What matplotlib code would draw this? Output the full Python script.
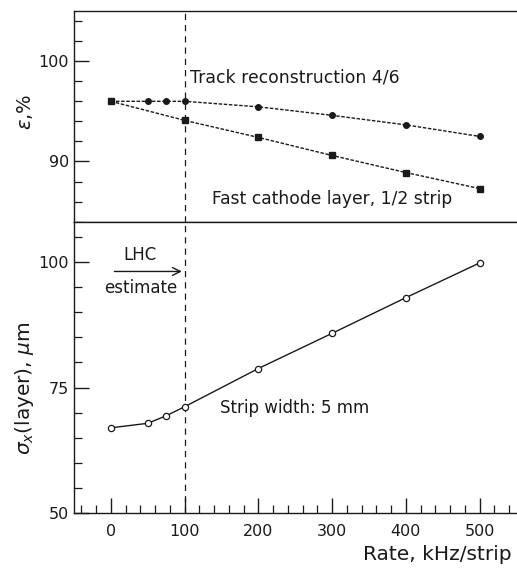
import matplotlib.pyplot as plt
from matplotlib.ticker import MultipleLocator

# Rate, kHz/strip
rate_track = [0, 50, 75, 100, 200, 300, 400, 500]
eff_track = [96.0, 96.0, 96.0, 96.0, 95.45, 94.6, 93.65, 92.5]

rate_fast = [0, 100, 200, 300, 400, 500]
eff_fast = [96.0, 94.1, 92.4, 90.6, 88.9, 87.3]

rate_sigma = [0, 50, 75, 100, 200, 300, 400, 500]
sigma_x = [67.0, 67.9, 69.4, 71.2, 78.8, 85.8, 92.9, 99.8]

xticks = [0, 100, 200, 300, 400, 500]
lhc_rate = 100

ink = '#1a1a1a'
plt.rcParams['font.family'] = 'DejaVu Sans'

fig = plt.figure(figsize=(5.17, 5.68), dpi=100)
ax1 = fig.add_axes([0.1431, 0.6097, 0.856, 0.3709])
ax2 = fig.add_axes([0.1431, 0.0963, 0.856, 0.5134], sharex=ax1)

for ax in (ax1, ax2):
    for s in ax.spines.values():
        s.set_linewidth(1.0)
        s.set_color(ink)
    ax.spines['right'].set_linewidth(0.5)
    ax.spines['right'].set_color('#bbbbbb')
    ax.tick_params(which='both', direction='in', colors=ink, labelsize=11.5,
                   top=False, right=False)
    ax.tick_params(which='major', length=11, width=1.0)
    ax.tick_params(which='minor', length=6, width=0.9)
    ax.axvline(lhc_rate, color=ink, lw=0.9, ls=(0, (5, 4)))

# top panel: efficiency
ax1.plot(rate_track, eff_track, color=ink, lw=1.0, ls=(0, (2.5, 1.2)),
         marker='o', ms=4, mfc=ink, mec=ink)
ax1.plot(rate_fast, eff_fast, color=ink, lw=1.0, ls=(0, (2.5, 1.2)),
         marker='s', ms=4, mfc=ink, mec=ink)
ax1.set_xlim(-50, 550)
ax1.set_ylim(84, 105)
ax1.yaxis.set_major_locator(MultipleLocator(10))
ax1.yaxis.set_minor_locator(MultipleLocator(2))
ax1.tick_params(axis='x', which='both', bottom=False, labelbottom=False)
ax1.text(107, 98.4, 'Track reconstruction 4/6', fontsize=12.4, color=ink,
         ha='left', va='center')
ax1.text(137, 86.3, 'Fast cathode layer, 1/2 strip', fontsize=12.3, color=ink,
         ha='left', va='center')

# bottom panel: resolution
ax2.plot(rate_sigma, sigma_x, color=ink, lw=1.0, marker='o', ms=4.5,
         mfc='white', mec=ink, mew=0.9)
ax2.set_ylim(50, 108)
ax2.set_xticks(xticks)
ax2.xaxis.set_minor_locator(MultipleLocator(20))
ax2.yaxis.set_major_locator(MultipleLocator(25))
ax2.yaxis.set_minor_locator(MultipleLocator(5))
ax2.tick_params(axis='x', which='major', length=11, pad=8)
ax2.text(40, 101.3, 'LHC', fontsize=12, color=ink, ha='center', va='center')
ax2.text(40, 94.9, 'estimate', fontsize=12, color=ink, ha='center', va='center')
ax2.annotate('', xy=(lhc_rate, 98.1), xytext=(1, 98.1),
             arrowprops=dict(arrowstyle='->', color=ink, lw=1.0,
                             mutation_scale=14))
ax2.text(148, 70.9, 'Strip width: 5 mm', fontsize=12, color=ink,
         ha='left', va='center')

fig.text(0.048, 0.803, r'$\varepsilon$,%', fontsize=14, rotation=90,
         ha='center', va='center', color=ink)
fig.text(0.048, 0.317, r'$\sigma_x$(layer), $\mu$m', fontsize=14.5, rotation=90,
         ha='center', va='center', color=ink)
fig.text(0.702, 0.023, 'Rate, kHz/strip', fontsize=14.5, ha='left',
         va='center', color=ink)

fig.savefig('out.png', dpi=100)
